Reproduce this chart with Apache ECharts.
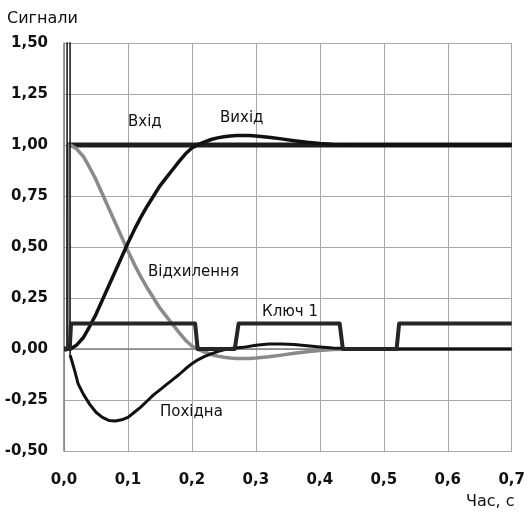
<!DOCTYPE html>
<html>
<head>
<meta charset="utf-8">
<script src="https://cdn.jsdelivr.net/npm/echarts@6/dist/echarts.min.js"></script>
<style>
  html, body { margin: 0; padding: 0; background: #fff; }
  #chart { width: 528px; height: 512px; }
</style>
</head>
<body>
<div id="chart"></div>
<script>
// Time axis ticks and value axis ticks
const xTicks = [0, 0.1, 0.2, 0.3, 0.4, 0.5, 0.6, 0.7];
const yTicks = [-0.5, -0.25, 0, 0.25, 0.5, 0.75, 1.0, 1.25, 1.5];

// Вхід (input step); null breaks the line at the step edge
const inputTime   = [0, 0.005, 0.005, 0.005, 0.7];
const inputValues = [0, 0, null, 1, 1];

// Вихід (output response)
const outputTime = [0, 0.01, 0.02, 0.03, 0.04, 0.05, 0.06, 0.07, 0.08, 0.09, 0.10,
  0.11, 0.12, 0.13, 0.14, 0.15, 0.16, 0.17, 0.18, 0.19, 0.20, 0.21, 0.22, 0.23, 0.24,
  0.25, 0.26, 0.27, 0.28, 0.29, 0.30, 0.32, 0.34, 0.36, 0.38, 0.40, 0.42, 0.44, 0.46,
  0.50, 0.60, 0.70];
const outputValues = [0, 0, 0.02, 0.055, 0.11, 0.17, 0.24, 0.31, 0.38, 0.45, 0.52,
  0.585, 0.645, 0.70, 0.75, 0.80, 0.84, 0.88, 0.92, 0.957, 0.985, 1.003, 1.015, 1.027, 1.035,
  1.04, 1.044, 1.046, 1.047, 1.046, 1.044, 1.038, 1.03, 1.021, 1.013, 1.007, 1.003, 1.001, 1.0,
  1.0, 1.0, 1.0];

// Відхилення (deviation)
const deviationTime = [0, 0.006, 0.006, 0.01, 0.02, 0.03, 0.04, 0.05, 0.06, 0.07, 0.08, 0.09, 0.10,
  0.11, 0.12, 0.13, 0.14, 0.15, 0.16, 0.17, 0.18, 0.19, 0.20, 0.21, 0.22, 0.23, 0.24,
  0.25, 0.26, 0.27, 0.28, 0.29, 0.30, 0.32, 0.34, 0.36, 0.38, 0.40, 0.42, 0.44, 0.46,
  0.50, 0.60, 0.70];
const deviationValues = [0, 0, 1, 1, 0.98, 0.945, 0.89, 0.83, 0.76, 0.69, 0.62, 0.55, 0.48,
  0.415, 0.355, 0.30, 0.25, 0.20, 0.16, 0.12, 0.08, 0.043, 0.015, -0.003, -0.015, -0.027, -0.035,
  -0.04, -0.044, -0.046, -0.047, -0.046, -0.044, -0.038, -0.03, -0.021, -0.013, -0.007, -0.003, -0.001, 0,
  0, 0, 0];

// Похідна (derivative): impulse at the step, then the smooth part
const spikeTime   = [0, 0.0048, 0.005, 0.0093, 0.0095];
const spikeValues = [0, 0, 12, 12, -0.03];
const derivTime = [0.0095, 0.012, 0.017, 0.022, 0.03, 0.04, 0.05, 0.06, 0.07, 0.08, 0.09, 0.10,
  0.11, 0.12, 0.13, 0.14, 0.15, 0.16, 0.17, 0.18, 0.19, 0.20, 0.21, 0.22, 0.23, 0.24, 0.25, 0.26,
  0.28, 0.30, 0.32, 0.34, 0.36, 0.38, 0.40, 0.42, 0.44, 0.46, 0.70];
const derivValues = [-0.03, -0.055, -0.11, -0.17, -0.22, -0.27, -0.31, -0.335, -0.35, -0.353, -0.347, -0.335,
  -0.31, -0.285, -0.255, -0.225, -0.2, -0.175, -0.15, -0.125, -0.097, -0.072, -0.052, -0.036, -0.024, -0.013, -0.004, 0.003,
  0.008, 0.018, 0.024, 0.025, 0.022, 0.016, 0.01, 0.005, 0.002, 0, 0];

// Ключ 1 (switch state)
const switchTime   = [0, 0.009, 0.011, 0.205, 0.209, 0.267, 0.273, 0.431, 0.436, 0.520, 0.524, 0.70];
const switchValues = [0, 0, 0.125, 0.125, 0, 0, 0.125, 0.125, 0, 0, 0.125, 0.125];

function pairs(ts, vs) {
  return ts.map((t, i) => [t, vs[i] === null ? '-' : vs[i]]);
}

const FONT = 'DejaVu Sans';
const comma = (v, d) => v.toFixed(d).replace('.', ',');

const chart = echarts.init(document.getElementById('chart'), null, { renderer: 'canvas' });

function lineSeries(name, data, color, width, z) {
  return {
    name, type: 'line', data, showSymbol: false, symbol: 'none',
    lineStyle: { color, width, join: 'round' }, z, clip: true, animation: false
  };
}

// Free text placed by its left edge and vertical middle
const caption = (text, x, y, size) => ({
  type: 'text', x, y, silent: true, z: 10,
  style: {
    text, font: (size || 15) + 'px "' + FONT + '"', fill: '#111',
    align: 'left', verticalAlign: 'middle'
  }
});

chart.setOption({
  animation: false,
  backgroundColor: '#fff',
  grid: { left: 64, right: 16, top: 43, bottom: 61, containLabel: false },
  xAxis: {
    type: 'value', min: xTicks[0], max: xTicks[xTicks.length - 1], interval: 0.1,
    axisLine: { show: true, lineStyle: { color: '#808080', width: 1.5 } },
    axisTick: { show: false },
    splitLine: { show: true, lineStyle: { color: '#a8a8a8', width: 1 } },
    axisLabel: {
      margin: 22, fontFamily: FONT, fontSize: 15, fontWeight: 'bold', color: '#111',
      formatter: v => comma(v, 1)
    }
  },
  yAxis: {
    type: 'value', min: yTicks[0], max: yTicks[yTicks.length - 1], interval: 0.25,
    axisLine: { show: true, lineStyle: { color: '#808080', width: 1.5 } },
    axisTick: { show: false },
    splitLine: { show: true, lineStyle: { color: '#a8a8a8', width: 1 } },
    axisLabel: {
      margin: 16, fontFamily: FONT, fontSize: 15, fontWeight: 'bold', color: '#111',
      formatter: v => comma(v, 2)
    }
  },
  series: [
    lineSeries('Вхід', pairs(inputTime, inputValues), '#1e1e1e', 5, 2),
    lineSeries('Відхилення', pairs(deviationTime, deviationValues), '#8a8a8a', 3.5, 3),
    lineSeries('Вихід', pairs(outputTime, outputValues), '#111', 3.5, 4),
    lineSeries('Похідна', pairs(derivTime, derivValues), '#111', 3, 5),
    lineSeries('Похідна імпульс', pairs(spikeTime, spikeValues), '#111', 1.5, 5),
    lineSeries('Ключ 1', pairs(switchTime, switchValues), '#262626', 4, 6)
  ],
  graphic: [
    caption('Сигнали', 7, 19, 16),
    caption('Час, с', 466, 502, 16),
    caption('Вхід', 128, 122),
    caption('Вихід', 220, 118),
    caption('Відхилення', 148, 272),
    caption('Ключ 1', 262, 312),
    caption('Похідна', 160, 412)
  ]
});
</script>
</body>
</html>
